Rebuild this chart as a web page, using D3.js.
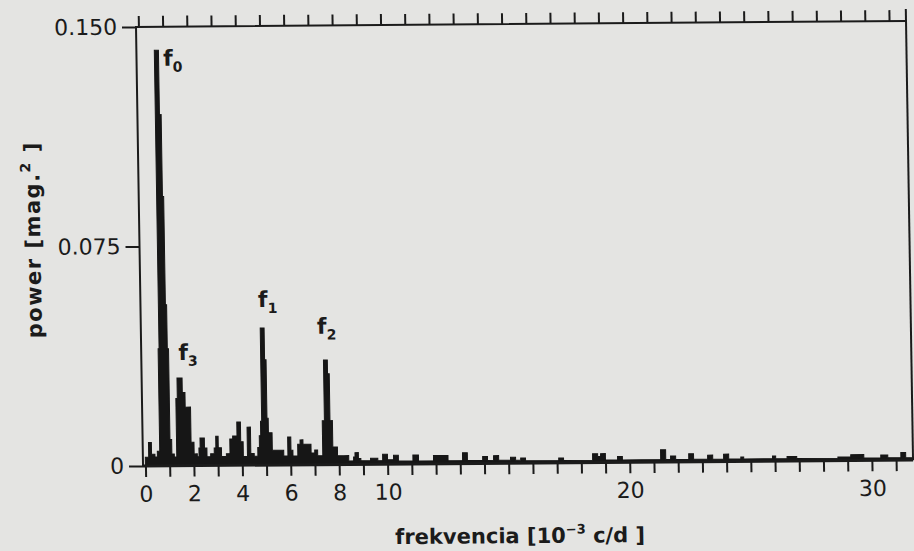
<!DOCTYPE html>
<html>
<head>
<meta charset="utf-8">
<script src="https://cdn.jsdelivr.net/npm/d3@7"></script>
<style>
  html, body { margin: 0; padding: 0; background: #e4e4e2; }
  svg { display: block; }
  text { font-family: "DejaVu Sans", sans-serif; fill: #1b1b1b; }
</style>
</head>
<body>
<div id="chart"></div>
<script>
// power spectrum; power[i] holds from freq[i] to freq[i+1]
const freq = [
  0.00, 0.14, 0.26, 0.40, 0.50, 0.60, 0.64, 0.81, 0.88, 0.93,
  0.98, 1.03, 1.10, 1.20, 1.30, 1.36, 1.57, 1.68, 1.90, 2.02,
  2.15, 2.22, 2.27, 2.45, 2.55, 2.70, 2.85, 2.92, 3.02, 3.15,
  3.35, 3.50, 3.62, 3.80, 3.95, 4.05, 4.22, 4.36, 4.50, 4.65,
  4.72, 4.78, 4.83, 4.99, 5.05, 5.10, 5.25, 5.72, 5.89, 6.02,
  6.10, 6.30, 6.40, 6.52, 6.85, 7.00, 7.12, 7.33, 7.42, 7.58,
  7.65, 7.75, 7.94, 8.20, 8.40, 8.60, 8.66, 8.80, 8.90, 9.30,
  9.60, 9.80, 10.00, 10.25, 10.45, 11.05, 11.28, 11.90, 12.50, 13.10,
  13.30, 13.93, 14.13, 14.38, 14.59, 15.08, 15.29, 15.50, 15.70, 17.07,
  17.27, 18.47, 18.68, 18.80, 19.00, 19.50, 19.70, 21.28, 21.49, 21.69,
  21.90, 22.44, 22.64, 23.22, 23.43, 23.88, 24.09, 24.59, 24.71, 25.90,
  26.03, 26.50, 26.90, 28.60, 29.13, 29.67, 30.37, 30.66, 31.20, 31.40,
  31.70
];
const power = [
  0.003, 0.008, 0.004, 0.003, 0.005, 0.040, 0.142, 0.120, 0.092, 0.055,
  0.040, 0.009, 0.004, 0.003, 0.023, 0.030, 0.025, 0.020, 0.008, 0.004,
  0.003, 0.006, 0.0094, 0.006, 0.003, 0.004, 0.006, 0.010, 0.006, 0.003,
  0.004, 0.009, 0.010, 0.0148, 0.008, 0.003, 0.013, 0.004, 0.003, 0.006,
  0.010, 0.015, 0.0468, 0.036, 0.016, 0.011, 0.005, 0.003, 0.0095, 0.005,
  0.003, 0.007, 0.0085, 0.007, 0.004, 0.005, 0.003, 0.015, 0.0357, 0.031,
  0.015, 0.006, 0.003, 0.003, 0.0012, 0.0025, 0.004, 0.002, 0.0012, 0.002,
  0.0012, 0.0034, 0.0015, 0.003, 0.0010, 0.003, 0.0010, 0.0028, 0.0010, 0.0037,
  0.0010, 0.0023, 0.0010, 0.0026, 0.0010, 0.002, 0.0010, 0.0017, 0.0008, 0.0016,
  0.0008, 0.003, 0.002, 0.003, 0.0008, 0.002, 0.0008, 0.0042, 0.0008, 0.002,
  0.0008, 0.0027, 0.0008, 0.0022, 0.0008, 0.0025, 0.0008, 0.0015, 0.0008, 0.0017,
  0.0008, 0.0015, 0.0008, 0.0012, 0.002, 0.0008, 0.0018, 0.0008, 0.0026, 0.0008,
  0.0008
];

// labelled peaks
const peakNames = ["0", "1", "2", "3"];
const peakFreq = [0.72, 4.91, 7.50, 1.46];
const peakPower = [0.142, 0.0468, 0.0357, 0.030];

const xTicks = d3.range(0, 32);
const xTickLabels = [0, 2, 4, 6, 8, 10, 20, 30];
const yTicks = [0, 0.075, 0.150];
const yTickLabels = ["0", "0.075", "0.150"];

const width = 914, height = 551;
const mLeft = 136, mRight = 906, mTop = 27, mBottom = 466;
const ink = "#1b1b1b";

const svg = d3.select("#chart").append("svg")
  .attr("width", width)
  .attr("height", height);

// the figure is a photo of a page, slightly skewed
const g = svg.append("g")
  .attr("transform", "matrix(1,-0.0078,0.016,1,-0.43,1.06)");

const x = d3.scaleLinear().domain([-0.1, 31.7]).range([mLeft, mRight]);
const y = d3.scaleLinear().domain([0, 0.150]).range([mBottom, mTop]);

// spectrum
const spec = freq.map((f, i) => [f, power[i]]);
const area = d3.area()
  .x(d => x(d[0]))
  .y0(y(0))
  .y1(d => y(d[1]))
  .curve(d3.curveStepAfter);

g.append("path")
  .datum(spec)
  .attr("d", area)
  .attr("fill", "#161616")
  .attr("stroke", "#161616")
  .attr("stroke-width", 1);

// axes
function styleAxis(sel) {
  sel.select(".domain").remove();
  sel.attr("font-family", null).attr("font-size", 22).attr("color", ink);
  sel.selectAll(".tick line").attr("stroke-width", 2);
}

g.append("g")
  .attr("transform", `translate(0,${mBottom})`)
  .call(d3.axisBottom(x).tickValues(xTicks).tickSize(11).tickPadding(9)
    .tickFormat(d => xTickLabels.includes(d) ? d : ""))
  .call(styleAxis);

g.append("g")
  .attr("transform", `translate(0,${mTop})`)
  .call(d3.axisTop(x).tickValues(xTicks).tickSize(11).tickFormat(""))
  .call(styleAxis);

g.append("g")
  .attr("transform", `translate(${mLeft},0)`)
  .call(d3.axisLeft(y).tickValues(yTicks).tickSize(14).tickPadding(5)
    .tickFormat((d, i) => yTickLabels[i]))
  .call(styleAxis);

// frame
g.append("path")
  .attr("d", `M${mLeft},${mBottom}V${mTop}H${mRight}`)
  .attr("fill", "none").attr("stroke", ink).attr("stroke-width", 2);
g.append("path")
  .attr("d", `M${mRight},${mTop - 12}V${mBottom}`)
  .attr("fill", "none").attr("stroke", ink).attr("stroke-width", 2);
g.append("path")
  .attr("d", `M${mLeft},${mBottom}H${mRight}`)
  .attr("fill", "none").attr("stroke", ink).attr("stroke-width", 3);

// peak labels
const labelOffset = {"0": [6.7, 15.6], "1": [-3.7, -21], "2": [-8, -26.5], "3": [-0.7, -18]};
peakNames.forEach((n, i) => {
  const [dx, dy] = labelOffset[n];
  const t = g.append("text")
    .attr("x", x(peakFreq[i]) + dx)
    .attr("y", y(peakPower[i]) + dy)
    .attr("font-size", 22)
    .attr("font-weight", "bold")
    .text("f");
  t.append("tspan")
    .attr("dy", 6)
    .attr("font-size", 14)
    .text(n);
});

// axis titles
const xt = g.append("text")
  .attr("x", 512).attr("y", 546)
  .attr("text-anchor", "middle")
  .attr("font-size", 21)
  .attr("font-weight", "bold")
  .text("frekvencia [10");
xt.append("tspan").attr("dy", -9).attr("font-size", 13).text("−3");
xt.append("tspan").attr("dy", 9).text(" c/d ]");

const yt = g.append("text")
  .attr("transform", "translate(37,239) rotate(-90)")
  .attr("text-anchor", "middle")
  .attr("font-size", 21)
  .attr("font-weight", "bold")
  .attr("letter-spacing", 1.5)
  .text("power [mag.");
yt.append("tspan").attr("dy", -9).attr("font-size", 14).text("2");
yt.append("tspan").attr("dy", 9).text(" ]");
</script>
</body>
</html>
